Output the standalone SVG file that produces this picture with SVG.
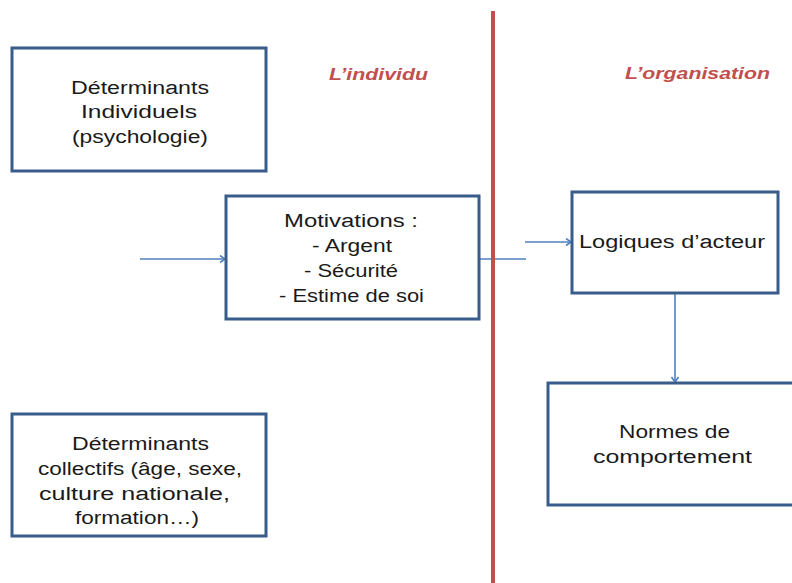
<svg xmlns="http://www.w3.org/2000/svg" width="792" height="583" viewBox="0 0 792 583">
<style>
.box{fill:#ffffff;stroke:#385d8a;stroke-width:3}
.t{font-family:"Liberation Sans",Arial,sans-serif;font-size:18px;fill:#1a1a1a}
.h{font-family:"Liberation Sans",Arial,sans-serif;font-size:17px;font-weight:bold;font-style:italic;fill:#c0504d}
.c{fill:none;stroke:#4f81bd;stroke-width:1.6}
</style>
<defs>
<marker id="arr" markerWidth="10" markerHeight="10" refX="6" refY="4" orient="auto" markerUnits="userSpaceOnUse">
<path d="M1,0.5 L6,4 L1,7.5" fill="none" stroke="#4f81bd" stroke-width="1.6"/>
</marker>
</defs>
<rect width="792" height="583" fill="#ffffff"/>
<g id="connectors">
<line class="c" x1="140" y1="259" x2="225" y2="259" marker-end="url(#arr)"/>
<line class="c" x1="479" y1="259" x2="526" y2="259"/>
<line class="c" x1="525" y1="242" x2="571" y2="242" marker-end="url(#arr)"/>
<line class="c" x1="675" y1="293" x2="675" y2="382" marker-end="url(#arr)"/>
</g>
<g id="divider">
<line x1="493" y1="11" x2="493" y2="583" stroke="#c0504d" stroke-width="4"/>
</g>
<g id="label-individu">
<text class="h" x="329" y="80" textLength="99" lengthAdjust="spacingAndGlyphs">L’individu</text>
</g>
<g id="label-organisation">
<text class="h" x="625" y="79" textLength="145" lengthAdjust="spacingAndGlyphs">L’organisation</text>
</g>
<g id="determinants-individuels">
<rect class="box" x="12" y="48" width="254" height="123"/>
<text class="t" x="71" y="94" textLength="138" lengthAdjust="spacingAndGlyphs">Déterminants</text>
<text class="t" x="81" y="118" textLength="116" lengthAdjust="spacingAndGlyphs">Individuels</text>
<text class="t" x="72" y="143" textLength="136" lengthAdjust="spacingAndGlyphs">(psychologie)</text>
</g>
<g id="motivations">
<rect class="box" x="226" y="196" width="253" height="123"/>
<text class="t" x="284" y="227" textLength="134" lengthAdjust="spacingAndGlyphs">Motivations :</text>
<text class="t" x="312" y="252" textLength="80" lengthAdjust="spacingAndGlyphs">- Argent</text>
<text class="t" x="304" y="277" textLength="94" lengthAdjust="spacingAndGlyphs">- Sécurité</text>
<text class="t" x="279" y="302" textLength="145" lengthAdjust="spacingAndGlyphs">- Estime de soi</text>
</g>
<g id="logiques-acteur">
<rect class="box" x="572" y="192" width="206" height="101"/>
<text class="t" x="579" y="248" textLength="186" lengthAdjust="spacingAndGlyphs">Logiques d’acteur</text>
</g>
<g id="normes-comportement">
<rect class="box" x="548" y="383" width="250" height="122"/>
<text class="t" x="619" y="438" textLength="111" lengthAdjust="spacingAndGlyphs">Normes de</text>
<text class="t" x="593" y="463" textLength="159" lengthAdjust="spacingAndGlyphs">comportement</text>
</g>
<g id="determinants-collectifs">
<rect class="box" x="12" y="414" width="254" height="122"/>
<text class="t" x="72" y="450" textLength="137" lengthAdjust="spacingAndGlyphs">Déterminants</text>
<text class="t" x="38" y="475" textLength="204" lengthAdjust="spacingAndGlyphs">collectifs (âge, sexe,</text>
<text class="t" x="39" y="500" textLength="191" lengthAdjust="spacingAndGlyphs">culture nationale,</text>
<text class="t" x="75" y="524" textLength="124" lengthAdjust="spacingAndGlyphs">formation…)</text>
</g>
</svg>
